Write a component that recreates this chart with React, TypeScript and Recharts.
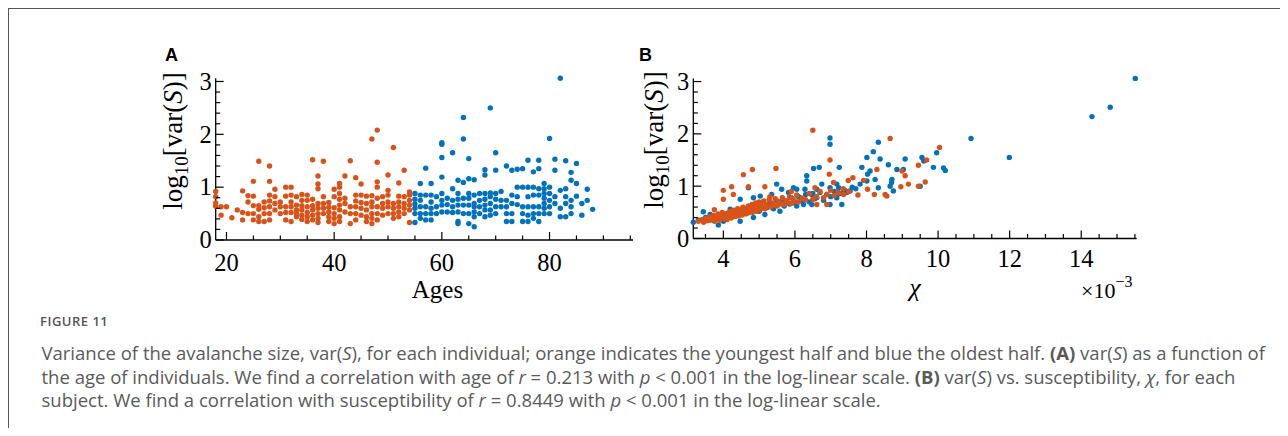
import { ScatterChart, Scatter, XAxis, YAxis } from "recharts";

// panel A: age -> log10 var(S), grouped by age column
const youngByAge: [number, number[]][] = [
  [18, [0.92, 0.82, 0.7, 0.64]],
  [19, [0.47, 0.63]],
  [20, [0.63]],
  [21, [0.42]],
  [22, [0.57]],
  [23, [0.93, 0.52, 0.38]],
  [24, [0.84, 0.72, 0.5]],
  [25, [1.11, 0.83, 0.65, 0.5, 0.38]],
  [26, [1.49, 0.65, 0.58, 0.44, 0.35]],
  [27, [0.72, 0.61, 0.5, 0.35]],
  [28, [1.4, 1.11, 0.85, 0.74, 0.63, 0.5, 0.38]],
  [29, [0.96, 0.82, 0.69, 0.57]],
  [30, [0.72, 0.63, 0.5]],
  [31, [1.0, 0.83, 0.63, 0.52, 0.38]],
  [32, [1.0, 0.85, 0.72, 0.63, 0.52, 0.35]],
  [33, [0.82, 0.66, 0.57, 0.5, 0.44]],
  [34, [0.86, 0.75, 0.65, 0.57, 0.47, 0.39]],
  [35, [0.85, 0.75, 0.63, 0.52, 0.44, 0.35]],
  [36, [1.52, 0.77, 0.65, 0.57, 0.47, 0.38]],
  [37, [1.21, 1.06, 0.97, 0.69, 0.6, 0.5, 0.41, 0.33]],
  [38, [1.49, 0.82, 0.69, 0.6, 0.5]],
  [39, [0.71, 0.62, 0.53, 0.44, 0.35]],
  [40, [0.96, 0.82, 0.61, 0.5, 0.41, 0.31]],
  [41, [1.07, 1.0, 0.88, 0.77, 0.66, 0.57, 0.44, 0.35]],
  [42, [1.21, 0.79, 0.69, 0.53]],
  [43, [1.5, 0.63, 0.5, 0.31]],
  [44, [1.18, 0.85, 0.74, 0.63, 0.5, 0.38]],
  [45, [1.06, 0.85, 0.71, 0.6, 0.47]],
  [46, [0.83, 0.69, 0.57, 0.44, 0.35]],
  [47, [1.91, 0.84, 0.72, 0.63, 0.5, 0.41, 0.31]],
  [48, [2.08, 1.47, 1.1, 1.0, 0.79, 0.63, 0.5, 0.38]],
  [49, [0.82, 0.69, 0.6, 0.47]],
  [50, [1.23, 0.94, 0.85, 0.72, 0.63, 0.5]],
  [51, [1.75, 0.69, 0.6, 0.5, 0.41]],
  [52, [1.08, 0.83, 0.72, 0.63, 0.53, 0.44]],
  [53, [1.32, 0.82, 0.69, 0.6, 0.5]],
  [54, [0.91, 0.85, 0.75, 0.66, 0.57, 0.33]],
];

const oldByAge: [number, number[]][] = [
  [55, [0.88, 0.77, 0.68, 0.6, 0.5, 0.33]],
  [56, [1.07, 0.85, 0.75, 0.63, 0.5, 0.41]],
  [57, [1.36, 0.85, 0.63, 0.5, 0.38]],
  [58, [1.07, 0.85, 0.72, 0.6, 0.5, 0.38]],
  [59, [0.82, 0.63, 0.5]],
  [60, [1.84, 1.81, 1.56, 1.19, 0.88, 0.75, 0.66, 0.53]],
  [61, [0.79, 0.67, 0.53]],
  [62, [1.65, 0.97, 0.75, 0.63, 0.52]],
  [63, [1.13, 0.88, 0.77, 0.66, 0.53, 0.35, 0.31]],
  [64, [2.32, 1.91, 1.09, 0.79, 0.66, 0.5]],
  [65, [1.54, 1.16, 0.88, 0.79, 0.66, 0.5, 0.31]],
  [66, [1.14, 0.85, 0.69, 0.63, 0.53, 0.44, 0.25]],
  [67, [0.88, 0.75, 0.63, 0.5]],
  [68, [1.33, 1.23, 0.88, 0.77, 0.66, 0.57, 0.44]],
  [69, [2.5, 0.89, 0.82, 0.69, 0.57, 0.47]],
  [70, [1.65, 1.32, 0.88, 0.77, 0.63, 0.5]],
  [71, [0.92, 0.75, 0.63]],
  [72, [1.4, 0.75, 0.63, 0.5, 0.35]],
  [73, [1.32, 0.85, 0.69, 0.5, 0.35]],
  [74, [1.34, 1.0, 0.82, 0.67]],
  [75, [1.35, 1.0, 0.63, 0.5, 0.35]],
  [76, [1.51, 1.0, 0.82, 0.63, 0.47, 0.35]],
  [77, [1.29, 1.0, 0.85, 0.63, 0.5, 0.41]],
  [78, [1.51, 1.35, 0.97, 0.85, 0.63, 0.5, 0.35]],
  [79, [1.07, 0.97, 0.88, 0.79, 0.69, 0.6, 0.5]],
  [80, [1.92, 1.0, 0.88, 0.75, 0.63, 0.5]],
  [81, [1.53, 1.32, 0.82, 0.69]],
  [82, [3.06, 0.94, 0.6, 0.44]],
  [83, [1.5, 0.97, 0.82, 0.69, 0.44]],
  [84, [1.28, 1.13, 0.75, 0.63, 0.5]],
  [85, [1.45, 1.07, 0.83]],
  [86, [0.69, 0.47]],
  [87, [0.96, 0.75]],
  [88, [0.58]],
];

// panel B: chi (x 1e-3) -> log10 var(S)
const youngChi: [number, number][] = [
  [3.3, 0.33], [3.4, 0.36], [3.45, 0.31], [3.5, 0.38], [3.55, 0.34], [3.6, 0.41], [3.62, 0.35],
  [3.7, 0.39], [3.72, 0.44], [3.75, 0.33], [3.75, 0.55], [3.8, 0.42], [3.82, 0.37], [3.85, 0.47],
  [3.88, 0.4], [3.9, 0.35], [3.95, 0.44], [3.97, 0.5], [4.0, 0.41], [4.0, 0.75], [4.0, 0.92],
  [4.02, 0.38], [4.05, 0.46], [4.08, 0.43], [4.1, 0.36], [4.12, 0.49], [4.15, 0.45], [4.18, 0.41],
  [4.2, 0.52], [4.22, 0.39], [4.23, 0.99], [4.25, 0.47], [4.28, 0.44], [4.28, 0.84], [4.3, 0.54],
  [4.33, 0.42], [4.35, 0.49], [4.38, 0.46], [4.4, 0.57], [4.42, 0.43], [4.45, 0.51], [4.48, 0.48],
  [4.5, 0.55], [4.52, 0.45], [4.55, 0.6], [4.56, 1.22], [4.58, 0.5], [4.6, 0.53], [4.63, 0.47],
  [4.65, 0.58], [4.68, 0.52], [4.7, 0.62], [4.7, 0.99], [4.72, 0.49], [4.75, 0.56], [4.78, 0.53],
  [4.8, 0.65], [4.81, 1.32], [4.82, 0.5], [4.85, 0.59], [4.88, 0.55], [4.9, 0.68], [4.92, 0.52],
  [4.95, 0.61], [4.98, 0.57], [5.0, 0.7], [5.03, 0.55], [5.06, 0.63], [5.1, 0.59], [5.13, 0.72],
  [5.16, 0.57], [5.16, 0.99], [5.2, 0.65], [5.24, 0.61], [5.28, 0.74], [5.3, 0.8], [5.32, 0.6],
  [5.36, 0.68], [5.4, 0.64], [5.45, 0.76], [5.47, 1.34], [5.5, 0.62], [5.55, 0.7], [5.6, 0.66],
  [5.65, 0.78], [5.7, 0.65], [5.75, 0.72], [5.8, 0.69], [5.85, 0.8], [5.9, 0.67], [5.9, 0.9],
  [5.95, 0.75], [6.0, 0.71], [6.05, 0.83], [6.1, 0.7], [6.2, 0.77], [6.3, 0.74], [6.4, 0.86],
  [6.5, 0.75], [6.5, 2.07], [6.56, 0.97], [6.6, 0.8], [6.61, 0.65], [6.7, 0.9], [6.8, 0.78],
  [6.89, 0.65], [6.9, 0.84], [6.96, 1.23], [6.98, 1.5], [7.0, 0.92], [7.08, 1.07], [7.1, 0.82],
  [7.2, 0.88], [7.22, 0.88], [7.35, 0.95], [7.36, 0.84], [7.49, 1.11], [7.5, 0.9], [7.62, 1.16],
  [7.76, 0.83], [7.92, 1.11], [8.03, 0.94], [8.22, 0.84], [8.29, 1.32], [8.52, 0.84], [8.57, 0.81],
  [8.66, 1.91], [8.96, 0.99], [8.99, 1.29], [9.08, 1.2], [9.17, 1.04], [9.45, 1.4], [9.45, 1.0],
  [9.64, 1.08], [9.68, 1.5], [10.04, 1.74],
];

const oldChi: [number, number][] = [
  [3.16, 0.31], [3.3, 0.35], [3.44, 0.51], [3.5, 0.4], [3.63, 0.46], [3.7, 0.36], [3.86, 0.26],
  [3.9, 0.42], [4.0, 0.33], [4.1, 0.47], [4.19, 0.56], [4.3, 0.44], [4.4, 0.52], [4.47, 0.33],
  [4.47, 0.75], [4.55, 0.58], [4.6, 0.48], [4.7, 0.55], [4.7, 0.97], [4.75, 0.59], [4.84, 0.4],
  [4.84, 0.78], [4.9, 0.62], [5.0, 0.52], [5.03, 0.81], [5.05, 0.66], [5.16, 0.46], [5.21, 0.59],
  [5.3, 0.68], [5.35, 0.84], [5.4, 0.57], [5.49, 1.04], [5.5, 0.72], [5.58, 0.52], [5.63, 0.94],
  [5.65, 0.75], [5.7, 0.62], [5.77, 0.72], [5.82, 0.88], [5.85, 0.66], [5.9, 0.78], [5.96, 0.97],
  [6.0, 0.68], [6.05, 0.62], [6.05, 0.94], [6.1, 0.8], [6.14, 0.78], [6.2, 0.72], [6.24, 0.65],
  [6.28, 0.94], [6.3, 0.84], [6.33, 1.2], [6.33, 1.1], [6.4, 0.7], [6.47, 0.65], [6.47, 0.84],
  [6.5, 0.86], [6.52, 1.34], [6.55, 0.76], [6.61, 0.78], [6.61, 0.94], [6.68, 1.36], [6.7, 0.88],
  [6.75, 1.04], [6.8, 0.73], [6.89, 0.84], [6.98, 0.65], [6.98, 1.92], [6.98, 1.8], [6.98, 0.97],
  [7.0, 0.8], [7.1, 0.9], [7.17, 0.78], [7.17, 1.04], [7.22, 0.97], [7.24, 1.36], [7.25, 0.86],
  [7.31, 0.65], [7.36, 0.88], [7.4, 0.92], [7.45, 0.88], [7.54, 0.91], [7.6, 0.98], [7.7, 0.95],
  [7.82, 1.04], [7.87, 1.36], [8.01, 1.55], [8.01, 1.1], [8.03, 1.23], [8.1, 1.29], [8.19, 1.66],
  [8.24, 1.13], [8.33, 1.84], [8.33, 0.97], [8.38, 1.52], [8.61, 1.41], [8.66, 1.0], [8.7, 1.07],
  [8.71, 1.13], [8.75, 0.91], [8.85, 1.32], [9.03, 1.32], [9.08, 1.52], [9.5, 1.0], [9.55, 1.55],
  [9.6, 1.48], [9.87, 1.36], [9.96, 1.64], [10.15, 1.35], [10.2, 1.3], [10.92, 1.91], [11.99, 1.55],
  [14.3, 2.33], [14.81, 2.51], [15.51, 3.06],
];

const ageTicks = [20, 25, 30, 35, 40, 45, 50, 55, 60, 65, 70, 75, 80, 85, 90, 95];
const ageLabels = [20, 40, 60, 80];
const chiTicks = [3.5, 4, 4.5, 5, 5.5, 6, 6.5, 7, 7.5, 8, 8.5, 9, 9.5, 10, 10.5, 11, 11.5, 12, 12.5, 13, 13.5, 14, 14.5, 15, 15.5];
const chiLabels = [4, 6, 8, 10, 12, 14];
const varTicks = [0, 0.2, 0.4, 0.6, 0.8, 1, 1.2, 1.4, 1.6, 1.8, 2, 2.2, 2.4, 2.6, 2.8, 3];
const varLabels = [0, 1, 2, 3];

const ORANGE = "#D95319";
const BLUE = "#0072BD";
const SERIF = "'Liberation Serif', 'Times New Roman', serif";
const SANS = "'Open Sans', sans-serif";

const fromColumns = (cols: [number, number[]][]) =>
  cols.flatMap(([age, vals]) => vals.map((v) => ({ x: age, y: v })));
const fromPairs = (pairs: [number, number][]) => pairs.map(([x, y]) => ({ x, y }));

const isLabel = (labels: number[], v: number) => labels.some((l) => Math.abs(l - v) < 1e-6);

function BottomTick(props: any) {
  const { x, y, payload, labels, offset } = props;
  const major = isLabel(labels, payload.value);
  return (
    <g>
      <line x1={x} x2={x} y1={y} y2={y - (major ? 8 : 4.5)} stroke="#000" strokeWidth={1.2} />
      {major && (
        <text x={x} y={y + offset} textAnchor="middle" fontFamily={SERIF} fontSize={24.5} fill="#000">
          {payload.value}
        </text>
      )}
    </g>
  );
}

function LeftTick(props: any) {
  const { x, y, payload } = props;
  const major = isLabel(varLabels, payload.value);
  return (
    <g>
      <line x1={x} x2={x + (major ? 8 : 4.5)} y1={y} y2={y} stroke="#000" strokeWidth={1.2} />
      {major && (
        <text x={x - 4} y={y} dy="0.34em" textAnchor="end" fontFamily={SERIF} fontSize={24.5} fill="#000">
          {payload.value}
        </text>
      )}
    </g>
  );
}

const dot = (color: string) => (p: any) => <circle cx={p.cx} cy={p.cy} r={2.7} fill={color} />;

function YLabel({ cx, cy }: { cx: number; cy: number }) {
  return (
    <text transform={`translate(${cx},${cy}) rotate(-90)`} textAnchor="middle" dy="0.3em" fontFamily={SERIF} fontSize={27} fill="#000">
      log<tspan dy={6} fontSize={19}>10</tspan>
      <tspan dy={-6}>[var(</tspan>
      <tspan fontStyle="italic">S</tspan>)]
    </text>
  );
}

export default function App() {
  const youngAge = fromColumns(youngByAge);
  const oldAge = fromColumns(oldByAge);
  const young = fromPairs(youngChi);
  const old = fromPairs(oldChi);
  const axisLine = { stroke: "#000", strokeWidth: 1.3 };

  return (
    <div style={{ position: "relative", width: 1272, height: 420 }}>
      <div style={{ position: "absolute", left: 32, top: 305 }}>
        <div style={{ fontFamily: SANS, fontSize: 13, fontWeight: 600, lineHeight: "16px", letterSpacing: 0.5, color: "#555" }}>
          FIGURE 11
        </div>
      </div>
      <div
        style={{
          position: "absolute", left: 33.5, top: 333, fontFamily: SANS, color: "#5a5a5a",
          fontSize: 18.5, lineHeight: "23.5px", whiteSpace: "nowrap",
        }}
      >
        <div>
          Variance of the avalanche size, var(<i>S</i>), for each individual; orange indicates the youngest half and blue the oldest half. <b>(A)</b> var(<i>S</i>) as a function of
        </div>
        <div>
          the age of individuals. We find a correlation with age of <i>r</i> = 0.213 with <i>p</i> &lt; 0.001 in the log-linear scale. <b>(B)</b> var(<i>S</i>) vs. susceptibility, <i>χ</i>, for each
        </div>
        <div>
          subject. We find a correlation with susceptibility of <i>r</i> = 0.8449 with <i>p</i> &lt; 0.001 in the log-linear scale.
        </div>
      </div>
      <div style={{ position: "absolute", left: 92, top: 32 }}>
        <ScatterChart width={560} height={280} margin={{ top: 38.3, right: 27, bottom: 40, left: 55.7 }}>
          <XAxis
            type="number" dataKey="x" domain={[18, 95.5]} ticks={ageTicks} interval={0} height={40}
            tickSize={0} tickMargin={0} axisLine={axisLine}
            tick={(p: any) => <BottomTick {...p} labels={ageLabels} offset={31} />}
          />
          <YAxis
            type="number" dataKey="y" domain={[0, 3.05]} ticks={varTicks} interval={0} width={60}
            tickSize={0} tickMargin={0} axisLine={axisLine} tick={(p: any) => <LeftTick {...p} />}
          />
          <Scatter data={youngAge} shape={dot(ORANGE)} isAnimationActive={false} />
          <Scatter data={oldAge} shape={dot(BLUE)} isAnimationActive={false} />
        </ScatterChart>
      </div>
      <div style={{ position: "absolute", left: 572, top: 32 }}>
        <ScatterChart width={580} height={280} margin={{ top: 38.4, right: 23.3, bottom: 41.5, left: 53.3 }}>
          <XAxis
            type="number" dataKey="x" domain={[3.2, 15.55]} ticks={chiTicks} interval={0} height={40}
            tickSize={0} tickMargin={0} axisLine={axisLine}
            tick={(p: any) => <BottomTick {...p} labels={chiLabels} offset={28.5} />}
          />
          <YAxis
            type="number" dataKey="y" domain={[0, 3.05]} ticks={varTicks} interval={0} width={60}
            tickSize={0} tickMargin={0} axisLine={axisLine} tick={(p: any) => <LeftTick {...p} />}
          />
          <Scatter data={old} shape={dot(BLUE)} isAnimationActive={false} />
          <Scatter data={young} shape={dot(ORANGE)} isAnimationActive={false} />
        </ScatterChart>
      </div>
      <svg width={1280} height={320} style={{ position: "absolute", left: -8, top: -8, pointerEvents: "none" }}>
        <text x={165} y={61} fontFamily="'Liberation Sans', Arial, sans-serif" fontWeight="bold" fontSize={18}>A</text>
        <text x={639} y={61} fontFamily="'Liberation Sans', Arial, sans-serif" fontWeight="bold" fontSize={18}>B</text>
        <YLabel cx={174} cy={141} />
        <YLabel cx={655} cy={140} />
        <text x={437.5} y={298} textAnchor="middle" fontFamily={SERIF} fontSize={25}>Ages</text>
        <text x={915} y={296} textAnchor="middle" fontFamily={SERIF} fontStyle="italic" fontSize={26}>χ</text>
        <text x={1081} y={298} fontFamily={SERIF} fontSize={22}>
          ×10<tspan dy={-11} fontSize={16}>−3</tspan>
        </text>
      </svg>
      {/* figure frame: left and top rules */}
      <div style={{ position: "absolute", left: -1, top: -1, width: 1281, height: 1.5, background: "#555" }} />
      <div style={{ position: "absolute", left: -1, top: -1, width: 1.5, height: 429, background: "#555" }} />
    </div>
  );
}
